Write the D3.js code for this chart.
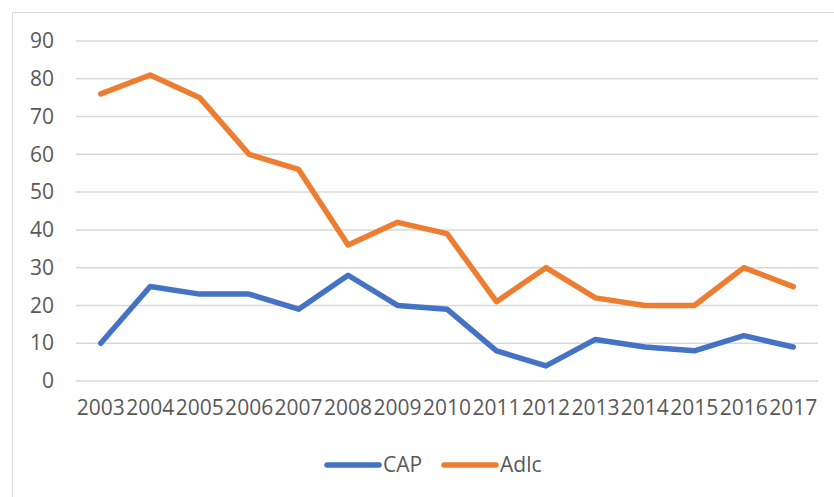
<!DOCTYPE html>
<html><head><meta charset="utf-8">
<script src="https://cdn.jsdelivr.net/npm/d3@7"></script>
<style>
html,body{margin:0;padding:0;background:#fff;}
svg{display:block;}
text{font-family:"Open Sans",sans-serif;fill:#595959;}
</style></head>
<body>
<script>
const years = ["2003","2004","2005","2006","2007","2008","2009","2010","2011","2012","2013","2014","2015","2016","2017"];
const capValues = [10,25,23,23,19,28,20,19,8,4,11,9,8,12,9];
const adlcValues = [76,81,75,60,56,36,42,39,21,30,22,20,20,30,25];
const yTicks = [0,10,20,30,40,50,60,70,80,90];
const seriesNames = ["CAP","Adlc"];
const seriesColors = ["#4472C4","#ED7D31"];

const W = 834, H = 497;
const svg = d3.select("body").append("svg").attr("width", W).attr("height", H);

// chart border (only left & top visible)
svg.append("rect").attr("x", 12.5).attr("y", 12.5).attr("width", 900).attr("height", 600)
  .attr("fill", "none").attr("stroke", "#d9d9d9").attr("stroke-width", 1);

const x = d3.scaleBand().domain(years).range([76, 818]);
const y = d3.scaleLinear().domain([0, 90]).range([381, 41]);

// gridlines
svg.append("g").selectAll("line").data(yTicks).join("line")
  .attr("x1", 76).attr("x2", 818)
  .attr("y1", d => y(d)).attr("y2", d => y(d))
  .attr("stroke", "#d9d9d9").attr("stroke-width", 1.5);

// y axis labels
const yAxis = d3.axisLeft(y).tickValues(yTicks).tickSize(0).tickPadding(0);
const gy = svg.append("g").attr("transform", "translate(54,0)").call(yAxis);
gy.select(".domain").remove();
gy.selectAll("text").attr("font-size", 21).attr("font-family", "'Open Sans',sans-serif").attr("fill", "#595959");

// x axis labels
const xAxis = d3.axisBottom(x).tickSize(0).tickPadding(0);
const gx = svg.append("g").attr("transform", "translate(0,400)").call(xAxis);
gx.select(".domain").remove();
gx.selectAll("text").attr("font-size", 21).attr("font-family", "'Open Sans',sans-serif").attr("fill", "#595959");

const line = d3.line().x((d, i) => x(years[i]) + x.bandwidth() / 2).y(d => y(d));
[capValues, adlcValues].forEach((vals, k) => {
  svg.append("path").datum(vals).attr("d", line)
    .attr("fill", "none").attr("stroke", seriesColors[k])
    .attr("stroke-width", 5.5).attr("stroke-linejoin", "round").attr("stroke-linecap", "round");
});

// legend
const legX = [327, 444];
seriesNames.forEach((name, k) => {
  const g = svg.append("g").attr("transform", `translate(${legX[k]},465)`);
  g.append("line").attr("x1", 0).attr("x2", 52).attr("y1", 0).attr("y2", 0)
    .attr("stroke", seriesColors[k]).attr("stroke-width", 5.5).attr("stroke-linecap", "round");
  g.append("text").attr("x", 56).attr("y", 0).attr("dy", "0.35em")
    .attr("font-size", 21).text(name);
});
</script>
</body></html>
